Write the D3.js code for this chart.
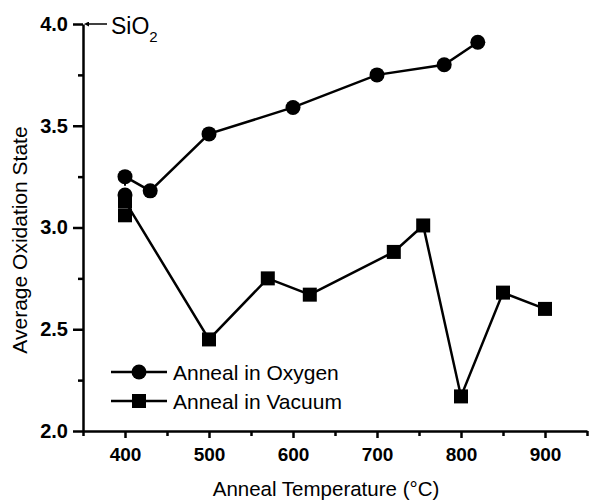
<!DOCTYPE html>
<html>
<head>
<meta charset="utf-8">
<script src="https://cdn.jsdelivr.net/npm/d3@7"></script>
<style>
  body { margin: 0; background: #fff; }
  svg { display: block; font-family: "Liberation Sans", Arial, sans-serif; }
</style>
</head>
<body>
<div id="chart"></div>
<script>
// Anneal in oxygen
const oxygenTemps = [400, 430, 500, 600, 700, 780, 820];
const oxygenValues = [3.25, 3.18, 3.46, 3.59, 3.75, 3.80, 3.91];

// Anneal in vacuum
const vacuumTemps = [400, 500, 570, 620, 720, 755, 800, 850, 900];
const vacuumValues = [3.13, 2.45, 2.75, 2.67, 2.88, 3.01, 2.17, 2.68, 2.60];

// starting points at 400 (unannealed)
const startCircle = [400, 3.16];
const startSquare = [400, 3.06];

const xTicks = [400, 500, 600, 700, 800, 900];
const yTicks = [2.0, 2.5, 3.0, 3.5, 4.0];

const width = 593, height = 502;
const margin = { top: 24, right: 6, bottom: 71, left: 83 };

const svg = d3.select('#chart')
    .append('svg')
    .attr('width', width)
    .attr('height', height);

const x = d3.scaleLinear()
    .domain([350, 950])
    .range([margin.left, width - margin.right]);

const y = d3.scaleLinear()
    .domain([2.0, 4.0])
    .range([height - margin.bottom, margin.top]);

// X axis, major + minor ticks
const xMinor = d3.range(350, 951, 50).filter(d => d % 100 !== 0);
svg.append('g')
    .attr('transform', `translate(0,${y(2.0)})`)
    .call(d3.axisBottom(x).tickValues(xMinor).tickSize(5).tickFormat(''))
    .call(g => g.select('.domain').remove())
    .selectAll('line').attr('stroke-width', 2.5);

const xAxis = svg.append('g')
    .attr('transform', `translate(0,${y(2.0)})`)
    .call(d3.axisBottom(x).tickValues(xTicks).tickSize(7).tickSizeOuter(0).tickPadding(10).tickFormat(d3.format('d')));
xAxis.select('.domain').attr('stroke-width', 2.5);
xAxis.selectAll('line').attr('stroke-width', 2.5);
xAxis.selectAll('text')
    .attr('font-size', 19)
    .attr('font-weight', 'bold')
    .attr('font-family', '"Liberation Sans", Arial, sans-serif');

// Y axis, major + minor ticks
const yMinor = [2.25, 2.75, 3.25, 3.75];
svg.append('g')
    .attr('transform', `translate(${x(350)},0)`)
    .call(d3.axisLeft(y).tickValues(yMinor).tickSize(5).tickFormat(''))
    .call(g => g.select('.domain').remove())
    .selectAll('line').attr('stroke-width', 2.5);

const yAxis = svg.append('g')
    .attr('transform', `translate(${x(350)},0)`)
    .call(d3.axisLeft(y).tickValues(yTicks).tickSize(10).tickSizeOuter(0).tickPadding(5).tickFormat(d3.format('.1f')));
yAxis.select('.domain').attr('stroke-width', 2.5);
yAxis.selectAll('line').attr('stroke-width', 2.5);
yAxis.selectAll('text')
    .attr('font-size', 20)
    .attr('font-weight', 'bold')
    .attr('font-family', '"Liberation Sans", Arial, sans-serif');

// Axis titles
svg.append('text')
    .attr('x', 326)
    .attr('y', 496)
    .attr('text-anchor', 'middle')
    .attr('font-size', 20.5)
    .text('Anneal Temperature (°C)');

svg.append('text')
    .attr('transform', `translate(27,240) rotate(-90)`)
    .attr('text-anchor', 'middle')
    .attr('font-size', 21)
    .text('Average Oxidation State');

// SiO2 marker
svg.append('defs').append('marker')
    .attr('id', 'arrow')
    .attr('viewBox', '0 0 10 10')
    .attr('refX', 0).attr('refY', 5)
    .attr('markerWidth', 8).attr('markerHeight', 5)
    .attr('markerUnits', 'userSpaceOnUse')
    .attr('orient', 'auto-start-reverse')
    .append('path').attr('d', 'M0,0 L10,5 L0,10 Z').attr('fill', '#000');

svg.append('line')
    .attr('x1', x(350) + 6).attr('x2', x(350) + 24)
    .attr('y1', y(4.0)).attr('y2', y(4.0))
    .attr('stroke', '#000').attr('stroke-width', 1.5)
    .attr('marker-start', 'url(#arrow)');

const sio2 = svg.append('text')
    .attr('x', x(350) + 28)
    .attr('y', y(4.0) + 10)
    .attr('font-size', 23);
sio2.append('tspan').text('SiO');
sio2.append('tspan').attr('font-size', 15).attr('dy', 8).text('2');

const line = d3.line().x(d => x(d[0])).y(d => y(d[1]));
const oxygen = oxygenTemps.map((t, i) => [t, oxygenValues[i]]);
const vacuum = vacuumTemps.map((t, i) => [t, vacuumValues[i]]);

// dashed connector at 400
svg.append('path')
    .attr('d', line([oxygen[0], startCircle]))
    .attr('stroke', '#000').attr('stroke-width', 2)
    .attr('stroke-dasharray', '3,3').attr('fill', 'none');

svg.append('path')
    .attr('d', line(vacuum))
    .attr('stroke', '#000').attr('stroke-width', 2.5).attr('fill', 'none');

svg.append('path')
    .attr('d', line(oxygen))
    .attr('stroke', '#000').attr('stroke-width', 2.5).attr('fill', 'none');

const sq = 14;
svg.selectAll('.sq')
    .data(vacuum.concat([startSquare]))
    .enter()
    .append('rect')
    .attr('x', d => x(d[0]) - sq / 2)
    .attr('y', d => y(d[1]) - sq / 2)
    .attr('width', sq).attr('height', sq)
    .attr('fill', '#000');

svg.selectAll('.dot')
    .data(oxygen.concat([startCircle]))
    .enter()
    .append('circle')
    .attr('cx', d => x(d[0]))
    .attr('cy', d => y(d[1]))
    .attr('r', 7.5)
    .attr('fill', '#000');

// Legend
const legend = [
    { label: 'Anneal in Oxygen', shape: 'circle', y: 372 },
    { label: 'Anneal in Vacuum', shape: 'square', y: 401 }
];
const lg = svg.selectAll('.legend')
    .data(legend)
    .enter()
    .append('g')
    .attr('transform', d => `translate(0,${d.y})`);

lg.append('line')
    .attr('x1', 111).attr('x2', 167)
    .attr('stroke', '#000').attr('stroke-width', 2.5);
lg.filter(d => d.shape === 'circle').append('circle')
    .attr('cx', 139).attr('r', 7.5).attr('fill', '#000');
lg.filter(d => d.shape === 'square').append('rect')
    .attr('x', 139 - sq / 2).attr('y', -sq / 2)
    .attr('width', sq).attr('height', sq).attr('fill', '#000');
lg.append('text')
    .attr('x', 173).attr('y', 7.5)
    .attr('font-size', 21)
    .text(d => d.label);
</script>
</body>
</html>
